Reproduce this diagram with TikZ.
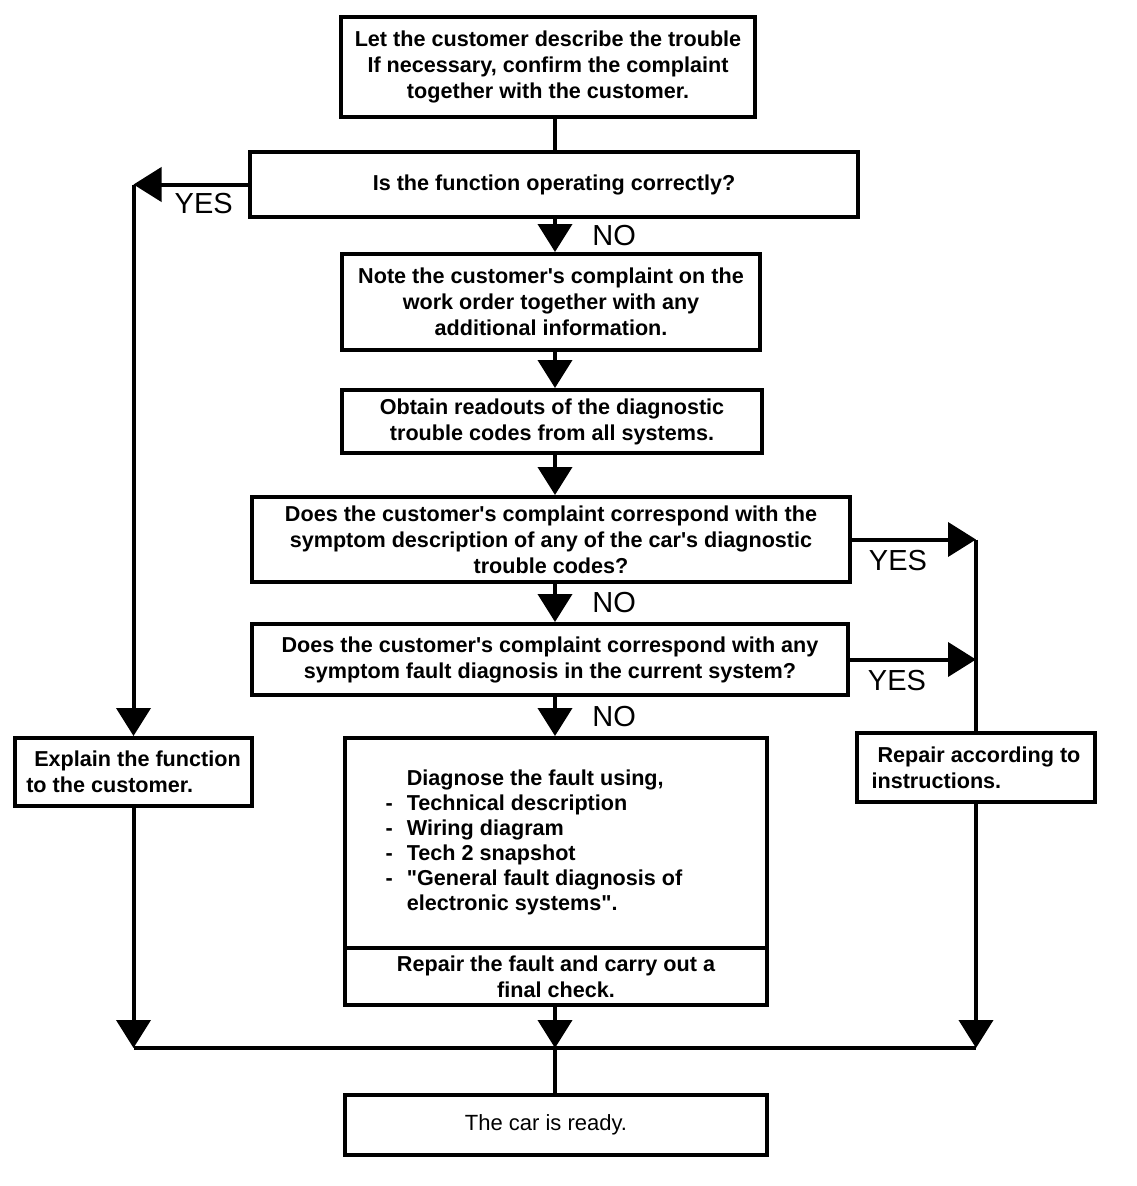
\documentclass[tikz,border=0pt]{standalone}
\usepackage{fontspec}
\setmainfont{Liberation Sans}
\usetikzlibrary{
  arrows.meta,
  positioning,
}
\tikzset{
  >={Triangle[width=34pt,length=28pt]},
  flowbox/.style={draw, line width=4pt, inner sep=0pt, align=center,
    font=\fontsize{21.6}{26}\selectfont\bfseries},
  answer/.style={font=\fontsize{29}{30}\selectfont},
  flow/.style={line width=4pt},
}
\newcommand{\apos}{\textquotesingle}

\begin{document}
\begin{tikzpicture}[x=1pt, y=-1pt]
    \useasboundingbox (0,0) rectangle (1136,1186);
    \coordinate (spine) at (555,0);

    % the main column
    \node[flowbox, minimum width=414pt, minimum height=100pt] (describe) at (548,67)
      {Let the customer describe the trouble\\If necessary, confirm the complaint\\together with the customer.};
    \node[flowbox, minimum width=608pt, minimum height=65pt] (check) at (554,184.5)
      {Is the function operating correctly?};
    \node[flowbox, minimum width=418pt, minimum height=96pt] (note) at (551,302)
      {Note the customer\apos s complaint on the\\work order together with any\\additional information.};
    \node[flowbox, minimum width=420pt, minimum height=63pt] (readout) at (552,421.5)
      {Obtain readouts of the diagnostic\\trouble codes from all systems.};
    \node[flowbox, minimum width=598pt, minimum height=85pt] (match_dtc) at (551,539.5)
      {Does the customer\apos s complaint correspond with the\\symptom description of any of the car\apos s diagnostic\\trouble codes?};
    \node[flowbox, minimum width=596pt, minimum height=71pt] (match_sym) at (550,659.5)
      {Does the customer\apos s complaint correspond with any\\symptom fault diagnosis in the current system?};
    \node[flowbox, minimum width=422pt, minimum height=210pt] (diagnose) at (556,843)
      {\begin{tabular}{@{}l@{\hspace{14pt}}l@{}}
        & Diagnose the fault using,\\[-1pt]
        - & Technical description\\[-1pt]
        - & Wiring diagram\\[-1pt]
        - & Tech 2 snapshot\\[-1pt]
        - & \textquotedbl General fault diagnosis of\\[-1pt]
        & electronic systems\textquotedbl.
      \end{tabular}\hspace*{44pt}};
    \node[flowbox, minimum width=422pt, minimum height=57pt] (repair) at (556,976.5)
      {Repair the fault and carry out a\\final check.};
    \node[flowbox, minimum width=422pt, minimum height=60pt, font=\fontsize{22}{26}\selectfont] (ready) at (556,1125)
      {The car is ready.\hspace*{20pt}};

    % side boxes
    \node[flowbox, minimum width=237pt, minimum height=68pt, align=left] (explain) at (133.5,772)
      {\hspace*{8pt}Explain the function\\to the customer.};
    \node[flowbox, minimum width=238pt, minimum height=69pt, align=left] (instr) at (976,767.5)
      {\hspace*{6pt}Repair according to\\instructions.};

    % straight down the middle
    \draw[flow] (describe.south -| spine) -- (check.north -| spine);
    \draw[flow, ->] (check.south -| spine) -- node[answer, right=32pt] {NO} (note.north -| spine);
    \draw[flow, ->] (note.south -| spine) -- (readout.north -| spine);
    \draw[flow, ->] (readout.south -| spine) -- (match_dtc.north -| spine);
    \draw[flow, ->] (match_dtc.south -| spine) -- node[answer, right=32pt] {NO} (match_sym.north -| spine);
    \draw[flow, ->] (match_sym.south -| spine) -- node[answer, right=32pt] {NO} (diagnose.north -| spine);

    % left branch
    \draw[flow, ->] (check.west) -- node[answer, below=3pt, xshift=13pt] {YES} (check.west -| explain.north);
    \draw[flow, ->] (check.west -| explain.north) -- (explain.north);

    % right branch
    \draw[flow, ->] (match_dtc.east) -- node[answer, below=5pt, xshift=-16pt] {YES} (match_dtc.east -| instr.north);
    \draw[flow, ->] (match_sym.east) -- node[answer, below=5pt, xshift=-16pt] {YES} (match_sym.east -| instr.north);
    \draw[flow] (match_dtc.east -| instr.north) -- (instr.north);

    % everything joins at the bottom
    \coordinate (join) at (555,1048);
    \draw[flow, ->] (explain.south) -- (explain.south |- join);
    \draw[flow, ->] (instr.south) -- (instr.south |- join);
    \draw[flow, ->] (repair.south -| spine) -- (join -| spine);
    \draw[flow] (explain.south |- join) -- (instr.south |- join);
    \draw[flow] (join -| spine) -- (ready.north -| spine);
\end{tikzpicture}
\end{document}
